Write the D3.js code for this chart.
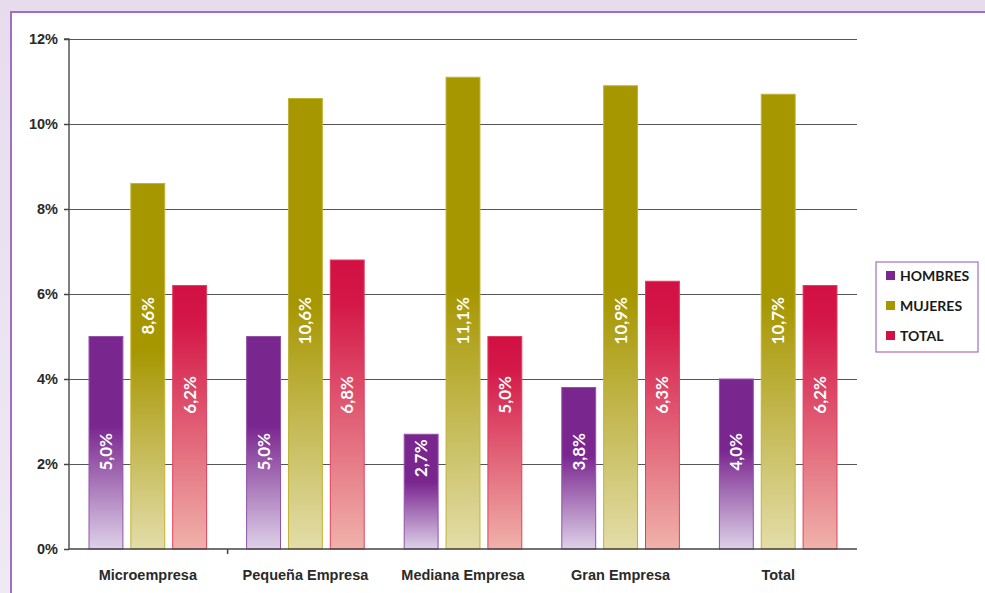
<!DOCTYPE html>
<html><head><meta charset="utf-8">
<script src="https://cdn.jsdelivr.net/npm/d3@7"></script>
<style>
html,body{margin:0;padding:0;background:#e8e0ef;}
svg{display:block;font-family:"Lato","Open Sans",sans-serif;}
</style></head>
<body><svg id="c" width="985" height="593"></svg>
<script>
const categories = ["Microempresa","Pequeña Empresa","Mediana Empresa","Gran Empresa","Total"];
const seriesNames = ["HOMBRES","MUJERES","TOTAL"];
const hombres = [5.0, 5.0, 2.7, 3.8, 4.0];
const mujeres = [8.6, 10.6, 11.1, 10.9, 10.7];
const total   = [6.2, 6.8, 5.0, 6.3, 6.2];
const yTicks = [0, 2, 4, 6, 8, 10, 12];

(function(){
const seriesValues = [hombres, mujeres, total];
const colors = [
  {top:"#7a268f", mid:"#7a268f", bot:"#ddd1e8", stroke:"#9552ab", stopMid:0.42, sw:"#7a268f"},
  {top:"#a69600", mid:"#a69600", bot:"#e3dda9", stroke:"#c2b236", stopMid:0.45, sw:"#a69600"},
  {top:"#d21043", mid:"#d41848", bot:"#f0b2aa", stroke:"#e0405e", stopMid:0.15, sw:"#d21043"}
];
// label end position (value units) per series, as in the original
const labelAt = [2.73, 5.93, 4.07];

const svg = d3.select("#c");
const defs = svg.append("defs");
const bgGrad = defs.append("linearGradient").attr("id","bg").attr("x1",0).attr("y1",0).attr("x2",0).attr("y2",1);
bgGrad.append("stop").attr("offset",0).attr("stop-color","#e6dcee");
bgGrad.append("stop").attr("offset",1).attr("stop-color","#efe9f3");
svg.append("rect").attr("width",985).attr("height",593).attr("fill","url(#bg)");
svg.append("rect").attr("x",11).attr("y",12).attr("width",990).attr("height",600)
  .attr("fill","#ffffff").attr("stroke","#a56dbd").attr("stroke-width",2);

colors.forEach((c,i)=>{
  const g = defs.append("linearGradient").attr("id","g"+i).attr("x1",0).attr("y1",0).attr("x2",0).attr("y2",1);
  g.append("stop").attr("offset",0).attr("stop-color",c.top);
  g.append("stop").attr("offset",c.stopMid).attr("stop-color",c.mid);
  g.append("stop").attr("offset",1).attr("stop-color",c.bot);
});

const pL = 69, pR = 857, pT = 39, pB = 549;
const y = d3.scaleLinear().domain([0,12]).range([pB, pT]);
const x0 = d3.scaleBand().domain(categories).range([pL, pR]).paddingInner(0).paddingOuter(0);
const x1 = d3.scaleBand().domain(seriesNames).range([20, x0.bandwidth()-20]).paddingInner(0.19);

// gridlines
svg.append("g").selectAll("line").data(yTicks.filter(t=>t>0)).join("line")
  .attr("x1",pL).attr("x2",pR).attr("y1",d=>y(d)).attr("y2",d=>y(d))
  .attr("stroke","#555").attr("stroke-width",1).attr("shape-rendering","crispEdges");

// y axis
const ya = svg.append("g").attr("transform",`translate(${pL},0)`)
  .call(d3.axisLeft(y).tickValues(yTicks).tickSize(5).tickFormat(d=>d+"%"));
ya.select(".domain").attr("stroke","#555").attr("stroke-width",1.5).attr("d",`M-5,${pT}H0V${pB}`);
ya.selectAll(".tick line").attr("stroke","#444").attr("stroke-width",1.5);
ya.selectAll("text").attr("font-size",14.5).attr("font-weight","bold").attr("fill","#2a2a2a").attr("x",-11);

// bars
const groups = svg.append("g").selectAll("g").data(categories).join("g")
  .attr("transform",d=>`translate(${x0(d)},0)`);
seriesNames.forEach((s,si)=>{
  groups.append("rect")
    .attr("x",x1(s)).attr("width",x1.bandwidth())
    .attr("y",(d,ci)=>y(seriesValues[si][ci]))
    .attr("height",(d,ci)=>y(0)-y(seriesValues[si][ci]))
    .attr("fill",`url(#g${si})`).attr("stroke",colors[si].stroke).attr("stroke-width",1);
  groups.append("text")
    .attr("transform",(d,ci)=>`translate(${x1(s)+x1.bandwidth()/2+6},${y(Math.min(labelAt[si], seriesValues[si][ci]-0.12))}) rotate(-90)`)
    .attr("text-anchor","end").attr("font-size",17).attr("font-weight","bold").attr("fill","#ffffff")
    .text((d,ci)=>seriesValues[si][ci].toFixed(1).replace(".",",")+"%");
});

// x axis
const xa = svg.append("g").attr("transform",`translate(0,${pB})`)
  .call(d3.axisBottom(x0).tickSize(0));
xa.select(".domain").attr("stroke","#444").attr("stroke-width",1.5).attr("d",`M${pL},0H${pR}`);
xa.selectAll("text").attr("y",21).attr("font-size",14.5).attr("font-weight","bold").attr("fill","#2a2a2a");
svg.append("line").attr("x1",x0(categories[1])+1).attr("x2",x0(categories[1])+1)
  .attr("y1",pB).attr("y2",pB+5).attr("stroke","#444").attr("stroke-width",1.5);

// legend
const lg = svg.append("g").attr("transform","translate(876,262)");
lg.append("rect").attr("width",102).attr("height",90).attr("fill","#fff").attr("stroke","#a56dbd").attr("stroke-width",1.2);
seriesNames.forEach((s,i)=>{
  lg.append("rect").attr("x",10).attr("y",9+i*30).attr("width",9).attr("height",9).attr("fill",colors[i].sw);
  lg.append("text").attr("x",24).attr("y",18.5+i*30).attr("font-size",14).attr("font-weight","bold")
    .attr("fill","#1a1a1a").text(s);
});
})();
</script></body></html>
